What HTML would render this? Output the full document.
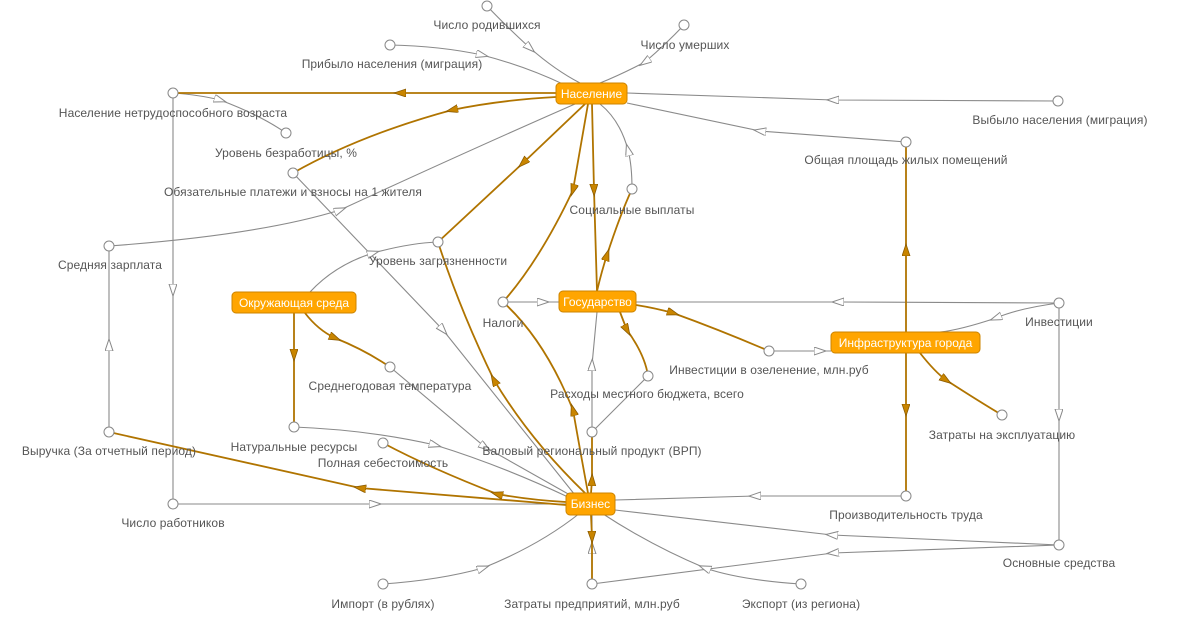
<!DOCTYPE html>
<html><head><meta charset="utf-8"><style>
html,body{margin:0;padding:0;background:#fff;}
svg{display:block;}
.g{fill:none;stroke:#8a8a8a;stroke-width:1.1;marker-mid:url(#ga);}
.o{fill:none;stroke:#b07400;stroke-width:1.8;marker-mid:url(#oa);}
.n{fill:#fff;stroke:#888;stroke-width:1;}
.l{font-family:"Liberation Sans",sans-serif;font-size:12px;fill:#555;text-anchor:middle;letter-spacing:0.1px;}
.b{fill:#ffa500;stroke:#cc8400;stroke-width:1;}
.bt{font-family:"Liberation Sans",sans-serif;font-size:12px;fill:#fff;text-anchor:middle;}
</style></head><body>
<svg width="1200" height="623" viewBox="0 0 1200 623" xmlns="http://www.w3.org/2000/svg">
<defs>
<marker id="ga" markerUnits="userSpaceOnUse" markerWidth="14" markerHeight="10" refX="6" refY="4" orient="auto"><path d="M0,0 L12,4 L0,8 z" fill="#fff" stroke="#888" stroke-width="1"/></marker>
<marker id="oa" markerUnits="userSpaceOnUse" markerWidth="14" markerHeight="10" refX="6" refY="4" orient="auto"><path d="M0,0 L12,4 L0,8 z" fill="#c98500" stroke="#8a5a00" stroke-width="0.8"/></marker>
</defs>
<path class="g" d="M487,6 Q505,25 530,48 Q555,70 580,83"/>
<path class="g" d="M684,25 Q665,45 645,62 Q620,75 600,83"/>
<path class="g" d="M390,45 Q440,46 482,55 Q525,66 565,85"/>
<path class="g" d="M1058,101 L833,100 L627,93"/>
<path class="g" d="M906,142 L760,131 L627,103"/>
<path class="g" d="M173,93 Q200,95 220,100 Q260,115 286,133"/>
<path class="g" d="M109,246 Q260,235 340,210 Q470,150 575,104"/>
<path class="g" d="M293,173 L443,330 L575,495"/>
<path class="g" d="M109,432 L109,345 L109,246"/>
<path class="g" d="M173,93 L173,290 L173,504"/>
<path class="g" d="M173,504 L375,504 L566,504"/>
<path class="g" d="M310,292 Q335,265 373,253 Q410,243 438,242"/>
<path class="g" d="M503,302 L543,302 L559,302"/>
<path class="g" d="M390,367 L485,447 L570,495"/>
<path class="g" d="M294,427 Q370,430 435,445 Q500,465 568,497"/>
<path class="g" d="M592,432 L592,365 L597,312"/>
<path class="g" d="M592,432 L648,376" style="marker-mid:none"/>
<path class="g" d="M1059,303 L838,302 L636,302"/>
<path class="g" d="M1059,303 Q1020,308 996,318 Q960,330 940,332"/>
<path class="g" d="M1059,303 L1059,415 L1059,545"/>
<path class="g" d="M769,351 L820,351 L831,351"/>
<path class="g" d="M906,496 L755,496 L615,500"/>
<path class="g" d="M1059,545 L832,535 L615,510"/>
<path class="g" d="M1059,545 L833,553 L592,584"/>
<path class="g" d="M801,584 Q740,580 705,568 Q650,545 600,512"/>
<path class="g" d="M383,584 Q440,580 483,568 Q540,545 580,513"/>
<path class="g" d="M592,584 L592,548 L592,515"/>
<path class="g" d="M632,189 Q632,165 628,150 Q620,120 600,104"/>
<path class="o" d="M556,93 L400,93 L178,93"/>
<path class="o" d="M556,97 Q500,100 452,110 Q360,135 293,173"/>
<path class="o" d="M585,104 L523,163 L438,242"/>
<path class="o" d="M588,104 Q580,150 573,190 Q540,260 503,302"/>
<path class="o" d="M592,104 L594,190 L597,291"/>
<path class="o" d="M597,291 Q602,270 607,255 Q620,215 632,189"/>
<path class="o" d="M636,305 Q655,308 673,313 Q720,330 769,351"/>
<path class="o" d="M620,312 Q623,320 627,330 Q645,355 648,376"/>
<path class="o" d="M294,313 L294,355 L294,427"/>
<path class="o" d="M305,313 Q318,330 335,338 Q365,350 390,367"/>
<path class="o" d="M566,505 L360,488 L109,432"/>
<path class="o" d="M566,502 Q530,500 497,494 Q430,468 383,443"/>
<path class="o" d="M585,493 Q530,440 494,380 Q460,310 438,242"/>
<path class="o" d="M588,493 Q580,450 573,410 Q545,340 503,302"/>
<path class="o" d="M591,493 L592,480 L592,432"/>
<path class="o" d="M591,515 L592,537 L592,584"/>
<path class="o" d="M906,332 L906,250 L906,142"/>
<path class="o" d="M906,353 L906,410 L906,496"/>
<path class="o" d="M920,353 Q935,372 946,380 Q980,402 1002,415"/>
<g>
<circle class="n" cx="487" cy="6" r="5"/><circle class="n" cx="684" cy="25" r="5"/>
<circle class="n" cx="390" cy="45" r="5"/><circle class="n" cx="1058" cy="101" r="5"/>
<circle class="n" cx="173" cy="93" r="5"/><circle class="n" cx="286" cy="133" r="5"/>
<circle class="n" cx="293" cy="173" r="5"/><circle class="n" cx="109" cy="246" r="5"/>
<circle class="n" cx="438" cy="242" r="5"/><circle class="n" cx="632" cy="189" r="5"/>
<circle class="n" cx="503" cy="302" r="5"/><circle class="n" cx="906" cy="142" r="5"/>
<circle class="n" cx="1059" cy="303" r="5"/><circle class="n" cx="769" cy="351" r="5"/>
<circle class="n" cx="648" cy="376" r="5"/><circle class="n" cx="592" cy="432" r="5"/>
<circle class="n" cx="390" cy="367" r="5"/><circle class="n" cx="294" cy="427" r="5"/>
<circle class="n" cx="383" cy="443" r="5"/><circle class="n" cx="109" cy="432" r="5"/>
<circle class="n" cx="173" cy="504" r="5"/><circle class="n" cx="383" cy="584" r="5"/>
<circle class="n" cx="592" cy="584" r="5"/><circle class="n" cx="801" cy="584" r="5"/>
<circle class="n" cx="1059" cy="545" r="5"/><circle class="n" cx="906" cy="496" r="5"/>
<circle class="n" cx="1002" cy="415" r="5"/>
</g>
<text class="l" x="487" y="29">Число родившихся</text>
<text class="l" x="685" y="49">Число умерших</text>
<text class="l" x="392" y="68">Прибыло населения (миграция)</text>
<text class="l" x="1060" y="124">Выбыло населения (миграция)</text>
<text class="l" x="173" y="117">Население нетрудоспособного возраста</text>
<text class="l" x="286" y="157">Уровень безработицы, %</text>
<text class="l" x="293" y="196">Обязательные платежи и взносы на 1 жителя</text>
<text class="l" x="110" y="269">Средняя зарплата</text>
<text class="l" x="438" y="265">Уровень загрязненности</text>
<text class="l" x="632" y="214">Социальные выплаты</text>
<text class="l" x="503" y="327">Налоги</text>
<text class="l" x="906" y="164">Общая площадь жилых помещений</text>
<text class="l" x="1059" y="326">Инвестиции</text>
<text class="l" x="769" y="374">Инвестиции в озеленение, млн.руб</text>
<text class="l" x="647" y="398">Расходы местного бюджета, всего</text>
<text class="l" x="592" y="455">Валовый региональный продукт (ВРП)</text>
<text class="l" x="390" y="390">Среднегодовая температура</text>
<text class="l" x="294" y="451">Натуральные ресурсы</text>
<text class="l" x="383" y="467">Полная себестоимость</text>
<text class="l" x="109" y="455">Выручка (За отчетный период)</text>
<text class="l" x="173" y="527">Число работников</text>
<text class="l" x="383" y="608">Импорт (в рублях)</text>
<text class="l" x="592" y="608">Затраты предприятий, млн.руб</text>
<text class="l" x="801" y="608">Экспорт (из региона)</text>
<text class="l" x="1059" y="567">Основные средства</text>
<text class="l" x="906" y="519">Производительность труда</text>
<text class="l" x="1002" y="439">Затраты на эксплуатацию</text>
<rect class="b" x="556" y="83" width="71" height="21" rx="4"/><text class="bt" x="591.5" y="98">Население</text>
<rect class="b" x="559" y="291" width="77" height="21" rx="4"/><text class="bt" x="597.5" y="306">Государство</text>
<rect class="b" x="232" y="292" width="124" height="21" rx="4"/><text class="bt" x="294" y="307">Окружающая среда</text>
<rect class="b" x="831" y="332" width="149" height="21" rx="4"/><text class="bt" x="905.5" y="347">Инфраструктура города</text>
<rect class="b" x="566" y="493" width="49" height="22" rx="4"/><text class="bt" x="590.5" y="508">Бизнес</text>
</svg>
</body></html>
